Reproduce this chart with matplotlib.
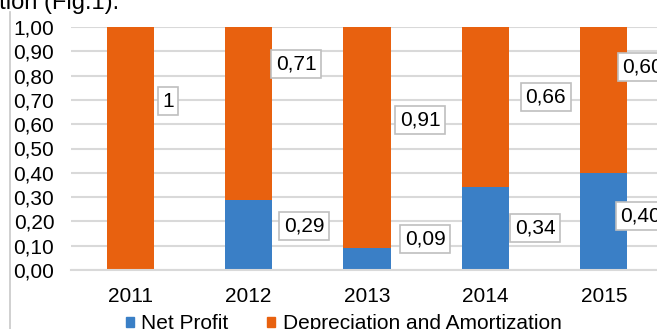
import matplotlib
matplotlib.use("Agg")
import matplotlib.pyplot as plt
from matplotlib.patches import Patch

plt.rcParams['font.family'] = ['Liberation Sans', 'DejaVu Sans']

years = ["2011", "2012", "2013", "2014", "2015"]
net_profit = [0.00, 0.29, 0.09, 0.34, 0.40]
depreciation = [1.00, 0.71, 0.91, 0.66, 0.60]
net_labels = ["", "0,29", "0,09", "0,34", "0,40"]
dep_labels = ["1", "0,71", "0,91", "0,66", "0,60"]

# callout placement (x offset from bar centre, y in data units)
net_pos = [(0, 0), (0.47, 0.18), (0.49, 0.128), (0.42, 0.173), (0.31, 0.222)]
dep_pos = [(0.32, 0.695), (0.40, 0.848), (0.45, 0.617), (0.51, 0.712), (0.33, 0.835)]

blue = "#3a7fc6"
orange = "#e8610f"
fs = 15

fig = plt.figure(figsize=(6.57, 3.29), dpi=100)
ax = fig.add_axes([71 / 657, 59 / 329, 5 * 118.4 / 657, 243 / 329])

x = range(len(years))
ax.bar(x, net_profit, width=0.4, color=blue, zorder=2)
ax.bar(x, depreciation, width=0.4, bottom=net_profit, color=orange, zorder=2)

box = dict(boxstyle="square,pad=0.22", fc="white", ec="#bfbfbf", lw=1.2)
for i in x:
    if net_labels[i]:
        ax.text(i + net_pos[i][0], net_pos[i][1], net_labels[i], ha="center", va="center",
                fontsize=fs, bbox=box, zorder=3)
    ax.text(i + dep_pos[i][0], dep_pos[i][1], dep_labels[i], ha="center", va="center",
            fontsize=fs, bbox=box, zorder=3)

ax.set_xlim(-0.5, 4.5)
ax.set_ylim(0, 1)
ax.set_yticks([i / 10 for i in range(11)])
ax.set_yticklabels([f"{i / 10:.2f}".replace(".", ",") for i in range(11)], fontsize=fs)
ax.set_xticks(list(x))
ax.set_xticklabels(years, fontsize=fs)
ax.tick_params(axis="y", length=0, pad=12)
ax.tick_params(axis="x", length=0, pad=12)
ax.grid(axis="y", color="#d9d9d9", lw=1.5, zorder=0)
for s in ["left", "right", "top"]:
    ax.spines[s].set_visible(False)
ax.spines["bottom"].set_color("#d9d9d9")
ax.spines["bottom"].set_linewidth(1.5)

handles = [Patch(color=blue, label="Net Profit"),
           Patch(color=orange, label="Depreciation and Amortization")]
fig.legend(handles=handles, loc="center", bbox_to_anchor=(0.523, 0.016), ncol=2,
           frameon=False, fontsize=fs, handlelength=0.4, handleheight=0.4,
           handletextpad=0.35, columnspacing=1.85)

# frame edge and cut-off caption from the source page
fig.add_artist(plt.Line2D([10 / 657, 10 / 657], [0, 1 - 12 / 329], color="#c8c8c8", lw=1.2))
fig.text(119 / 657, 1 - 9 / 329, "ation (Fig.1).", ha="right", va="baseline", fontsize=17)

fig.savefig("out.png", dpi=100)
